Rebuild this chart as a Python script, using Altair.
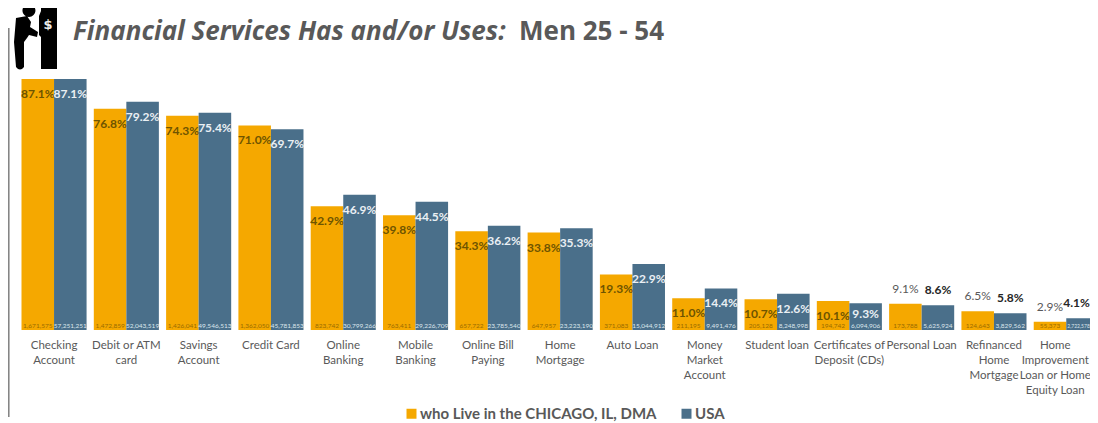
import altair as alt
import pandas as pd

categories = ["Checking|Account", "Debit or ATM|card", "Savings|Account", "Credit Card", "Online|Banking",
              "Mobile|Banking", "Online Bill|Paying", "Home|Mortgage", "Auto Loan", "Money|Market|Account",
              "Student loan", "Certificates of|Deposit (CDs)", "Personal Loan", "Refinanced|Home|Mortgage",
              "Home|Improvement|Loan or Home|Equity Loan"]
chicago_pct = [87.1, 76.8, 74.3, 71.0, 42.9, 39.8, 34.3, 33.8, 19.3, 11.0, 10.7, 10.1, 9.1, 6.5, 2.9]
usa_pct = [87.1, 79.2, 75.4, 69.7, 46.9, 44.5, 36.2, 35.3, 22.9, 14.4, 12.6, 9.3, 8.6, 5.8, 4.1]
chicago_n = ["1,671,575", "1,472,859", "1,426,041", "1,362,050", "823,742", "763,411", "657,722", "647,957",
             "371,083", "211,195", "205,128", "194,742", "173,788", "124,643", "55,373"]
usa_n = ["57,251,251", "52,043,519", "49,546,513", "45,781,853", "30,799,266", "29,226,709", "23,785,540",
         "23,223,190", "15,044,912", "9,491,476", "8,248,998", "6,094,906", "5,625,924", "3,829,562", "2,722,578"]
S1, S2 = "who Live in the CHICAGO, IL, DMA", "USA"
ORANGE, BLUE, GREY = "#F5A800", "#4A6F8A", "#595959"
FONT = "Lato"
LAST = categories[-1]
HIGH_LABEL = "Certificates of|Deposit (CDs)"

rows = []
for i, c in enumerate(categories):
    outside = i >= 12
    rows.append(dict(cat=c, series=S1, pct=chicago_pct[i], n=chicago_n[i], label=f"{chicago_pct[i]:.1f}%", outside=outside))
    rows.append(dict(cat=c, series=S2, pct=usa_pct[i], n=usa_n[i], label=f"{usa_pct[i]:.1f}%", outside=outside))
df = pd.DataFrame(rows)

xenc = alt.X("cat:N", sort=categories, title=None,
             scale=alt.Scale(range=[13.5, 1090.8], paddingInner=0.1, paddingOuter=0),
             axis=alt.Axis(labelExpr="split(datum.value,'|')", labelAngle=0, labelFontSize=11.5, labelFont=FONT,
                           labelColor=GREY, labelLineHeight=15, labelPadding=9, domain=False, ticks=False,
                           grid=False, labelLimit=200, labelOverlap=False, labelBound=False, labelFlush=False,
                           labelOffset={"condition": {"test": f"datum.value === '{LAST}'", "value": -11}, "value": 0}))
xoff = alt.XOffset("series:N", sort=[S1, S2], scale=alt.Scale(paddingInner=0, paddingOuter=0))
yenc = alt.Y("pct:Q", axis=None, scale=alt.Scale(domain=[0, 111.73], range=[322, 0], nice=False))

bars = alt.Chart(df).mark_bar().encode(
    x=xenc, xOffset=xoff, y=yenc,
    color=alt.Color("series:N", sort=[S1, S2], scale=alt.Scale(domain=[S1, S2], range=[ORANGE, BLUE]),
                    legend=alt.Legend(title=None, orient="none", legendX=396, legendY=398, direction="horizontal",
                                      columns=2, columnPadding=22, symbolType="square", symbolSize=100,
                                      labelOffset=1, labelFont=FONT, labelFontSize=15, labelFontWeight="bold",
                                      labelColor=GREY, labelLimit=400, symbolOpacity=1, symbolStrokeWidth=0)))

def pct_labels(test, dy, color, bold=True, dx=0):
    return alt.Chart(df).transform_filter(test).mark_text(
        dy=dy, dx=dx, font=FONT, fontSize=12, fontWeight="bold" if bold else "normal", color=color
    ).encode(x=xenc, xOffset=xoff, y=yenc, text="label:N")

is_last = f"datum.cat==='{LAST}'"
is_high = f"datum.cat==='{HIGH_LABEL}'"
in1 = pct_labels(f"!datum.outside && datum.series=='{S1}'", 15, "#6E5400")
in2 = pct_labels(f"!datum.outside && !({is_high}) && datum.series=='{S2}'", 15, "#EAF0F4")
in3 = pct_labels(f"{is_high} && datum.series=='{S2}'", 11, "#EAF0F4")
out1 = pct_labels(f"datum.outside && datum.series=='{S1}'", -15, GREY, bold=False)
out2 = pct_labels(f"datum.outside && !({is_last}) && datum.series=='{S2}'", -15, "#262626")
out3 = pct_labels(f"{is_last} && datum.series=='{S2}'", -15, "#262626", dx=-6)

def count_labels(test, color, dx=0, size=6.5):
    return alt.Chart(df).transform_filter(test).mark_text(
        font=FONT, fontSize=size, color=color, baseline="bottom", dy=-1, dx=dx
    ).encode(x=xenc, xOffset=xoff, y=alt.value(322), text="n:N")

n1 = count_labels(f"datum.series=='{S1}'", "#9A6C00")
n2 = count_labels(f"!({is_last}) && datum.series=='{S2}'", "#DCE6EC")
n3 = count_labels(f"{is_last} && datum.series=='{S2}'", "#DCE6EC", dx=-4, size=5)

one = pd.DataFrame({"a": [0]})
vline = alt.Chart(one).mark_rule(color="#7F7F7F", strokeWidth=1.5).encode(
    x=alt.value(0.8), y=alt.value(20), y2=alt.value(409))

title1 = alt.Chart(one).mark_text(text="Financial Services Has and/or Uses:", font="Open Sans", fontSize=26, fontStyle="italic",
                                  fontWeight="bold", color=GREY, align="left").encode(x=alt.value(65), y=alt.value(24))
title2 = alt.Chart(one).mark_text(text="Men 25 - 54", font="Open Sans", fontSize=26, fontWeight="bold", color=GREY,
                                  align="left").encode(x=alt.value(511), y=alt.value(24))

# icon of a man at a cash machine (offsets in px from the mark's anchor at the top-left of the plot)
ICON = ("M33 -1 L49 -1 L49 61 L33 61 L33 29 L31 27 L31 8 L33 3 Z "
        "M21 -4 A6.5 6.5 0 1 1 20.9 -4 Z "
        "M8 10 L19 8 L23 14 L22 19 L30 24 L29 29 L21 27 L19 30 L16 34 L16 59 "
        "Q12 64 8 59 L6 34 Z")
icon = alt.Chart(one).mark_point(shape=ICON, size=4, filled=True, fill="black", opacity=1, strokeWidth=0).encode(
    x=alt.value(0), y=alt.value(0))
dollar = alt.Chart(one).mark_text(text="$", font="DejaVu Sans", fontSize=13, fontWeight="bold", fill="#EDEDED").encode(
    x=alt.value(40), y=alt.value(17))

chart = alt.layer(vline, bars, n1, n2, n3, in1, in2, in3, out1, out2, out3, icon, dollar, title1, title2).properties(
    width=1082, height=322,
    autosize=alt.AutoSizeParams(type="none"),
    padding={"left": 0, "top": 0, "right": 0, "bottom": 92},
    background="white",
).resolve_scale(x="shared").configure_view(stroke=None)

chart.save("out.html", embed_options={"renderer": "svg", "actions": False})
